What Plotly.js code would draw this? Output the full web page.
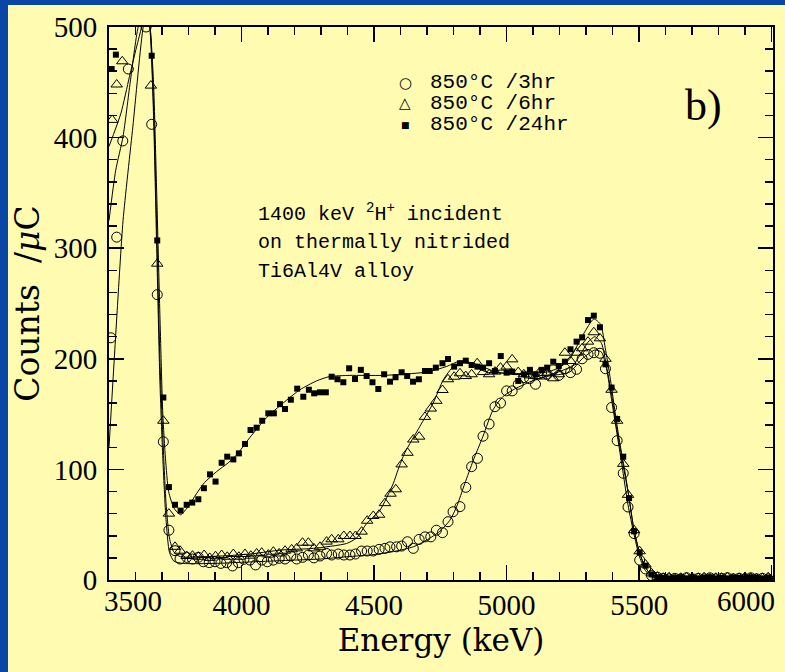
<!DOCTYPE html>
<html><head><meta charset="utf-8">
<script src="https://cdn.plot.ly/plotly-3.0.1.min.js"></script>
<style>
html,body{margin:0;padding:0;background:#0a46a6;width:785px;height:672px;overflow:hidden;}
#chart{position:absolute;left:8px;top:5px;width:777px;height:667px;}
</style></head><body><div id="chart"></div>
<script>
// ---- data: 850°C / 3hr (open circles) ----
var energy3hr = [3507,3529,3552,3573,3596,3618,3640,3661,3682,3705,3726,3749,3768,3793,3815,3837,3856,3878,3900,3922,3944,3966,3988,4009,4032,4053,4076,4097,4120,4142,4164,4186,4208,4230,4252,4273,4296,4321,4340,4365,4386,4409,4430,4453,4474,4497,4519,4541,4560,4585,4604,4626,4648,4670,4692,4714,4735,4758,4779,4798,4824,4846,4868,4890,4911,4934,4956,4977,5000,5021,5044,5065,5087,5109,5132,5153,5176,5197,5220,5241,5264,5285,5307,5329,5352,5373,5396,5417,5440,5458,5481,5502,5524,5547,
  5569,5591,5613,5635,5657,5679,5701,5723,5745,5767,5789,5811,5833,5855,5877,5899,5921,5943,5965,5987];
var counts3hr = [219,310,397,462,540,560,500,412,258,125,45,26.5,19,20.5,19,20.5,16.5,15.7,16.5,15,15.7,12.7,15.7,18.7,18,13.6,18,16.5,18,19.6,19,21.7,19,20.5,22.6,20,21.7,24,22.6,23.5,22.6,22.6,23.5,26.2,26.2,26.2,27.7,28.6,30,30,30.7,34.6,28.6,36.7,39,39,45,42.8,52.7,61.7,66.3,83.8,102.5,110,130,141,156.7,160,171,171,177,183,182,177,187.5,186,190,185,191,187.5,190.5,200,204,205.5,205,191,156,126,96.5,66,42,18,10,4,
  2.5,1.5,1,1.5,1,2,1,1.5,1,2,1,1.5,2,1,1.5,1,2,1,1.5,1];

// ---- data: 850°C / 6hr (open triangles) ----
var energy6hr = [3512,3529,3550,3572,3594,3615,3637,3658,3682,3705,3726,3749,3768,3793,3815,3837,3859,3880,3902,3925,3946,3969,3990,4013,4035,4057,4076,4101,4120,4142,4164,4189,4208,4230,4252,4273,4296,4321,4340,4365,4386,4409,4430,4453,4474,4497,4519,4541,4562,4582,4604,4626,4648,4670,4692,4714,4735,4758,4779,4802,4824,4846,4868,4889,4911,4934,4956,4977,5000,5021,5044,5065,5087,5109,5132,5153,5176,5197,5220,5241,5264,5285,5307,5329,5352,5373,5396,5417,5440,5458,5481,5502,5524,5547,
  5569,5591,5613,5635,5657,5679,5701,5723,5745,5767,5789,5811,5833,5855,5877,5899,5921,5943,5965,5987];
var counts6hr = [416,448,469,530,560,540,510,447,286,144,60,30,26.5,21.7,22,21,22.6,20,21.5,22.6,21,23.5,21,23.5,22,24,24.7,23,25.6,24,26.5,27.7,28.6,33.7,33.7,28.6,30,34.7,36.8,36.8,39.8,39.8,39.8,43.7,53.6,57.9,59,69.5,78,82,104.5,115,127,129.6,147.5,155,162,171.8,181.5,183.8,186.9,184.4,186,196,188,186,188.4,192,193,199.5,188,186,185,184.4,184,187,182.4,186,205.5,198,205.5,209.5,215.5,224,218.5,200,172,144,105,77,45,26,14,6,
  3,2,2.5,1.5,2,2.5,1.5,2,2.5,1.5,2,2,2.5,1.5,2,2.5,2,1.5,2,2.5];

// ---- data: 850°C / 24hr (filled squares) ----
var energy24hr = [3510,3526,3548,3570,3592,3614,3638,3661,3682,3705,3726,3749,3770,3793,3814,3837,3858,3881,3902,3925,3946,3969,3990,4013,4034,4057,4078,4101,4122,4145,4164,4186,4210,4233,4254,4274,4296,4318,4340,4362,4384,4406,4428,4450,4472,4494,4516,4538,4560,4581,4604,4625,4647,4669,4692,4710,4733,4758,4779,4802,4824,4846,4868,4890,4911,4934,4956,4978,5000,5021,5044,5065,5088,5109,5132,5153,5176,5197,5220,5241,5264,5285,5307,5329,5352,5373,5396,5417,5440,5462,5481,5502,5524,5547,
  5569,5591,5613,5635,5657,5679,5701,5723,5745,5767,5789,5811,5833,5855,5877,5899,5921,5943,5965,5987];
var counts24hr = [462,475,540,580,590,570,520,474,307,165,84,68,62.7,68,70,73,83,95.5,89,106,111.5,109,114.5,123,135.6,137.7,144,150.7,150.7,159,154.6,163,173,165.7,172,168.8,169.7,169.7,183.8,181.5,178.8,191.4,181.7,190,184.4,178.8,172.7,186,179.3,183.3,187.8,184.4,179.3,181.5,189,189,192,196,199.8,192.9,196,198.3,194.4,192.9,192,196,189,202.5,187.5,188.4,180,186,190,186,190,192,197.4,193.5,197.4,208.6,215.5,219.4,235,239,228.5,195,174,145.6,111.5,74,44,25,13,5,
  2.5,2,1.5,2,2.5,1.5,2,1.5,2,2.5,1.5,2,1.5,2,2,1.5,2.5,2,1.5,2];

// ---- fitted curves ----
var fitE3hr = [3500,3530,3553,3590,3629,3645,3657,3668,3680,3692,3703,3715,3728,3745,3780,3900,4000,4100,4200,4300,4396,4500,4580,4648,4698,4748,4786,4811,4842,4874,4911,4949,4987,5025,5087,5151,5238,5285,5333,5358,5377,5396,5414,5435,5458,5480,5500,5520,5540,5560,5600,6005];
var fitC3hr = [120,240,325,410,500,515,490,420,300,180,110,55,25,17,15,15,16,17,18,19,21,23,26,30,36,44,54,66,87,108,130,154,166,172,179,184,188,200,208,206,191,163,136,104,68,42,22,10,4,2,1,1];
var fitE6hr = [3500,3525,3553,3580,3610,3640,3655,3668,3680,3692,3703,3715,3728,3745,3770,3850,3950,4050,4145,4271,4396,4434,4472,4522,4572,4591,4616,4673,4723,4761,4799,4836,4874,4924,5025,5151,5249,5307,5333,5358,5377,5398,5414,5435,5460,5480,5500,5520,5540,5560,5600,6005];
var fitC6hr = [325,370,401,450,500,520,500,430,320,200,130,70,38,25,21,21,22,24,27,28.6,33,38,51,63,87,100,115,139,160,181,193,197,194,188,187,185,194,215,220,214,193,165,139,110,77,46,26,13,6,3,1.5,1.5];
var fitE24hr = [3500,3545,3577,3604,3623,3640,3655,3668,3680,3692,3703,3713,3725,3745,3770,3800,3830,3860,3906,3950,3981,4032,4095,4157,4220,4283,4333,4409,4534,4698,4773,4824,4874,4962,5025,5100,5151,5200,5238,5289,5329,5355,5372,5390,5408,5427,5445,5462,5480,5500,5520,5540,5560,5600,6005];
var fitC24hr = [392,422,455,482,500,520,500,450,350,240,150,110,80,65,59,67,78,88,98,106,113,129,147,160,172,180,184,185,185,188,193,198,196,188,186,187,188,192,200,222,236,231,210,184,154,124,100,74,46,26,13,6,3,1.5,1.5];

// ---- axis tick labels ----
var xTickVals = [3500,4000,4500,5000,5500,6000];
var xTickText = ['','4000','4500','5000','5500',''];
var xEdgeLabels = ['3500','6000'];
var legendLabels = ['850°C /3hr','850°C /6hr','850°C /24hr'];
var legendSymbols = ['○','△','■'];

var fitLine = {color:'#000', width:1, shape:'spline', smoothing:0.6};
var traces = [
  {x:fitE3hr, y:fitC3hr, mode:'lines', line:fitLine, hoverinfo:'skip'},
  {x:fitE6hr, y:fitC6hr, mode:'lines', line:fitLine, hoverinfo:'skip'},
  {x:fitE24hr, y:fitC24hr, mode:'lines', line:fitLine, hoverinfo:'skip'},
  {x:energy3hr, y:counts3hr, mode:'markers', name:legendLabels[0],
   marker:{symbol:'circle-open', size:10, color:'#000', line:{width:1, color:'#000'}}},
  {x:energy6hr, y:counts6hr, mode:'markers', name:legendLabels[1],
   marker:{symbol:'triangle-up-open', size:10, color:'#000', line:{width:1, color:'#000'}}},
  {x:energy24hr, y:counts24hr, mode:'markers', name:legendLabels[2],
   marker:{symbol:'square', size:6, color:'#000', line:{width:0}}}
];

var tickFont = {family:'Liberation Serif, serif', size:29, color:'#000'};
var monoFont = {family:'Liberation Mono, monospace', size:21, color:'#000'};
var X0 = 109, X1 = 773, Y0 = 27, Y1 = 580;
function px(p){ return (p - X0)/(X1 - X0); }
function py(p){ return (Y1 - p)/(Y1 - Y0); }

var annotations = [];
var rowY = [82.7, 103, 124.5];
var symSize = [15, 15, 9];
for (var i = 0; i < 3; i++) {
  annotations.push({xref:'paper', yref:'paper', x:px(405), y:py(rowY[i]), xanchor:'center', yanchor:'middle',
    text:legendSymbols[i], showarrow:false, font:{family:'DejaVu Sans', size:symSize[i], color:'#000'}});
  annotations.push({xref:'paper', yref:'paper', x:px(428), y:py(rowY[i]), xanchor:'left', yanchor:'middle',
    text:legendLabels[i], showarrow:false, font:monoFont});
}
var noteLines = ['1400 keV <sup>2</sup>H<sup>+</sup> incident','on thermally nitrided','Ti6Al4V alloy'];
var noteY = [213, 242, 271];
for (var j = 0; j < 3; j++) {
  annotations.push({xref:'paper', yref:'paper', x:px(256), y:py(noteY[j]), xanchor:'left', yanchor:'middle',
    text:noteLines[j], showarrow:false, font:{family:'Liberation Mono, monospace', size:20, color:'#000'}});
}
annotations.push({xref:'paper', yref:'paper', x:px(703), y:py(105), xanchor:'center', yanchor:'middle',
  text:'b)', showarrow:false, font:{family:'Liberation Serif, serif', size:44, color:'#000'}});
// first and last x tick labels sit inside the frame, as in the original
annotations.push({xref:'paper', yref:'paper', x:px(133), y:py(601), xanchor:'center', yanchor:'middle',
  text:xEdgeLabels[0], showarrow:false, font:tickFont});
annotations.push({xref:'paper', yref:'paper', x:px(746), y:py(601), xanchor:'center', yanchor:'middle',
  text:xEdgeLabels[1], showarrow:false, font:tickFont});

var layout = {
  width:777, height:667,
  margin:{l:101, r:12, t:22, b:92},
  paper_bgcolor:'#fffcb2', plot_bgcolor:'#fffcb2',
  showlegend:false,
  xaxis:{range:[3500,6005], showgrid:false, zeroline:false,
    showline:true, linewidth:2, linecolor:'#000', mirror:'ticks',
    ticks:'inside', ticklen:15, tickwidth:1.5, tickcolor:'#000',
    tickmode:'array', tickvals:xTickVals, ticktext:xTickText, tickfont:tickFont, ticklabelstandoff:-2,
    minor:{ticks:'inside', dtick:100, tick0:3500, ticklen:8, tickwidth:1.5, tickcolor:'#000'},
    title:{text:'Energy (keV)', font:{family:'DejaVu Serif, serif', size:31, color:'#000'}, standoff:10}},
  yaxis:{range:[0,500], showgrid:false, zeroline:false,
    showline:true, linewidth:2, linecolor:'#000', mirror:'ticks',
    ticks:'inside', ticklen:15, tickwidth:1.5, tickcolor:'#000',
    tick0:0, dtick:100, tickfont:tickFont, ticklabelstandoff:4,
    minor:{ticks:'inside', dtick:20, ticklen:8, tickwidth:1.5, tickcolor:'#000'},
    title:{text:'Counts  /<i>μ</i>C', font:{family:'DejaVu Serif, serif', size:33, color:'#000'}, standoff:8}},
  annotations:annotations
};

Plotly.newPlot('chart', traces, layout, {staticPlot:true, displayModeBar:false});
</script></body></html>
